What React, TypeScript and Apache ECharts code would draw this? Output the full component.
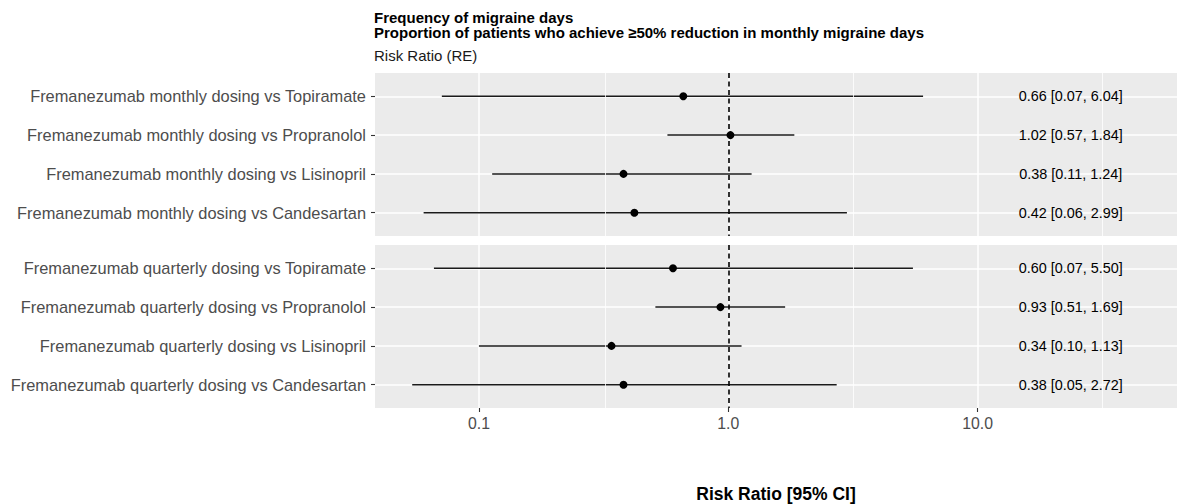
import React, { useEffect, useRef } from "react";
import * as echarts from "echarts";

const TITLE_LINES = [
  "Frequency of migraine days",
  "Proportion of patients who achieve ≥50% reduction in monthly migraine days",
];
const SUBTITLE = "Risk Ratio (RE)";
const X_AXIS_TITLE = "Risk Ratio [95% CI]";
const X_TICKS = [0.1, 1, 10];
const X_MINOR = [0.3162, 3.162, 31.62];
const REF_VALUE = 1;
const X_MIN = 0.0383;
const X_MAX = 63.0;
const LABEL_X = 23.6;

const monthlyNames = [
  "Fremanezumab monthly dosing vs Topiramate",
  "Fremanezumab monthly dosing vs Propranolol",
  "Fremanezumab monthly dosing vs Lisinopril",
  "Fremanezumab monthly dosing vs Candesartan",
];
const monthlyEst = [0.66, 1.02, 0.38, 0.42];
const monthlyLo = [0.071, 0.57, 0.113, 0.06];
const monthlyHi = [6.04, 1.84, 1.24, 2.99];

const quarterlyNames = [
  "Fremanezumab quarterly dosing vs Topiramate",
  "Fremanezumab quarterly dosing vs Propranolol",
  "Fremanezumab quarterly dosing vs Lisinopril",
  "Fremanezumab quarterly dosing vs Candesartan",
];
const quarterlyEst = [0.6, 0.93, 0.34, 0.38];
const quarterlyLo = [0.066, 0.51, 0.1, 0.054];
const quarterlyHi = [5.5, 1.69, 1.13, 2.72];

const FONT = '"Liberation Sans", Arial, Helvetica, sans-serif';

const panels = [
  { names: monthlyNames, est: monthlyEst, lo: monthlyLo, hi: monthlyHi },
  { names: quarterlyNames, est: quarterlyEst, lo: quarterlyLo, hi: quarterlyHi },
];

const fmt = (e: number, l: number, h: number) =>
  `${e.toFixed(2)} [${l.toFixed(2)}, ${h.toFixed(2)}]`;

export default function App() {
  const ref = useRef<HTMLDivElement>(null);
  useEffect(() => {
    document.body.style.margin = "0";
    if (!ref.current) return;
    const chart = echarts.init(ref.current, undefined, { renderer: "svg" });
    const rowVals = [1, 2, 3, 4];
    const gridTops = [73, 245];
    const grid = gridTops.map((t) => ({
      left: 375,
      top: t,
      width: 802,
      height: 163,
      show: true,
      backgroundColor: "#EBEBEB",
      borderWidth: 0,
    }));
    const xAxis = panels.map((_, i) => ({
      type: "log",
      logBase: 10,
      gridIndex: i,
      min: X_MIN,
      max: X_MAX,
      axisLine: { show: false },
      axisTick: {
        show: i === 1,
        length: 4,
        customValues: X_TICKS,
        lineStyle: { color: "#333333", width: 1.1 },
      },
      axisLabel: {
        show: i === 1,
        customValues: X_TICKS,
        formatter: (v: number) => Number(v).toFixed(1),
        color: "#4D4D4D",
        fontSize: 15.8,
        fontFamily: FONT,
        margin: 7,
      },
      splitLine: { show: true, lineStyle: { color: "#FFFFFF", width: 1.5 } },
      name: i === 1 ? X_AXIS_TITLE : "",
      nameLocation: "middle",
      nameGap: 77,
      nameTextStyle: {
        fontSize: 17.5,
        fontWeight: "bold",
        color: "#000000",
        fontFamily: FONT,
      },
    }));
    const yAxis = panels.map((p, i) => ({
      type: "value",
      gridIndex: i,
      inverse: true,
      min: 0.4,
      max: 4.6,
      splitNumber: 4,
      axisLine: { show: false },
      axisTick: {
        show: true,
        length: 4,
        customValues: rowVals,
        lineStyle: { color: "#333333", width: 1.1 },
      },
      axisLabel: {
        customValues: rowVals,
        formatter: (v: number) =>
          Math.abs(v - Math.round(v)) < 1e-6 ? p.names[Math.round(v) - 1] ?? "" : "",
        color: "#4D4D4D",
        fontSize: 16.4,
        fontFamily: FONT,
        margin: 9,
      },
      splitLine: { show: true, lineStyle: { color: "#FFFFFF", width: 1.5 } },
    }));
    const series: any[] = [];
    panels.forEach((p, i) => {
      series.push({
        type: "line",
        xAxisIndex: i,
        yAxisIndex: i,
        data: [[REF_VALUE, 1]],
        symbol: "none",
        lineStyle: { opacity: 0 },
        z: 1,
        silent: true,
        markLine: {
          silent: true,
          symbol: ["none", "none"],
          label: { show: false },
          lineStyle: { color: "#FFFFFF", width: 0.8, type: "solid" },
          data: X_MINOR.map((v) => ({ xAxis: v })),
        },
      });
      series.push({
        type: "custom",
        xAxisIndex: i,
        yAxisIndex: i,
        z: 3,
        data: p.lo.map((l, j) => [l, p.hi[j], j + 1]),
        encode: { x: [0, 1], y: 2 },
        renderItem: (params: any, api: any) => {
          const a = api.coord([api.value(0), api.value(2)]);
          const b = api.coord([api.value(1), api.value(2)]);
          return {
            type: "line",
            shape: { x1: a[0], y1: a[1], x2: b[0], y2: b[1] },
            style: { stroke: "#1A1A1A", lineWidth: 1.5 },
          };
        },
      });
      series.push({
        type: "line",
        xAxisIndex: i,
        yAxisIndex: i,
        data: [[REF_VALUE, 1]],
        symbol: "none",
        lineStyle: { opacity: 0 },
        z: 4,
        silent: true,
        markLine: {
          silent: true,
          symbol: ["none", "none"],
          label: { show: false },
          lineStyle: { color: "#000000", width: 1.6, type: [5, 3.5] },
          data: [{ xAxis: REF_VALUE }],
        },
      });
      series.push({
        type: "scatter",
        xAxisIndex: i,
        yAxisIndex: i,
        z: 5,
        symbol: "circle",
        symbolSize: 8,
        itemStyle: { color: "#000000", opacity: 1 },
        data: p.est.map((e, j) => [e, j + 1]),
      });
      series.push({
        type: "custom",
        xAxisIndex: i,
        yAxisIndex: i,
        z: 6,
        data: p.est.map((e, j) => [LABEL_X, j + 1, j]),
        encode: { x: 0, y: 1 },
        renderItem: (params: any, api: any) => {
          const c = api.coord([api.value(0), api.value(1)]);
          const j = params.dataIndex;
          return {
            type: "text",
            x: c[0],
            y: c[1],
            style: {
              text: fmt(p.est[j], p.lo[j], p.hi[j]),
              fill: "#000000",
              fontSize: 14.4,
              fontFamily: FONT,
              align: "center",
              verticalAlign: "middle",
            },
          };
        },
      });
    });
    chart.setOption({
      animation: false,
      backgroundColor: "#FFFFFF",
      title: {
        text: TITLE_LINES.join("\n"),
        subtext: SUBTITLE,
        left: 374,
        top: 10,
        padding: 0,
        itemGap: 7.5,
        textStyle: {
          fontSize: 15,
          fontWeight: "bold",
          color: "#000000",
          lineHeight: 15,
          fontFamily: FONT,
        },
        subtextStyle: {
          fontSize: 15,
          color: "#1A1A1A",
          lineHeight: 15,
          fontFamily: FONT,
        },
      },
      grid,
      xAxis,
      yAxis,
      series,
    });
    return () => chart.dispose();
  }, []);
  return <div ref={ref} style={{ width: 1177, height: 504 }} />;
}
